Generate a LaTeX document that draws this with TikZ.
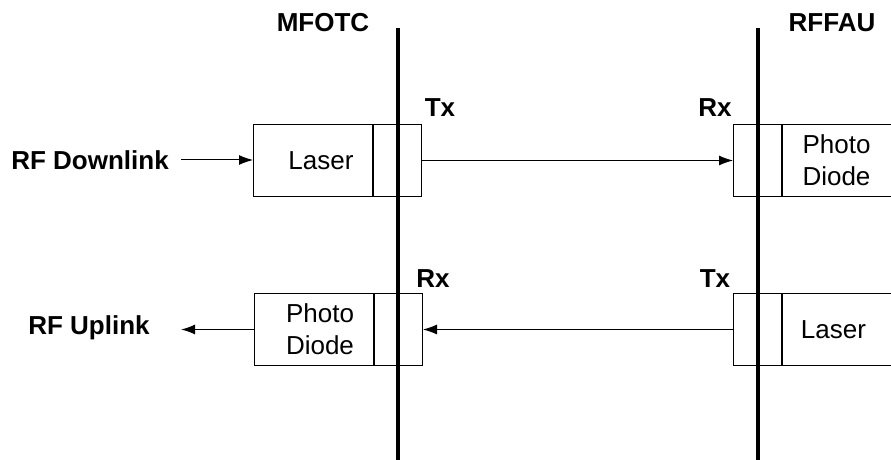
\documentclass[tikz,border=0pt]{standalone}
\usepackage{fontspec}
\setmainfont{Liberation Sans}
\usepackage{tikz}
\usetikzlibrary{arrows.meta, positioning, calc}

\begin{document}
\begin{tikzpicture}[x=0.5pt, y=-0.5pt,
    font=\fontsize{13}{16}\selectfont,
    port/.style={draw, line width=0.5pt, minimum width=24pt, minimum height=36pt, inner sep=0pt},
    unit/.style={draw, line width=0.5pt, minimum width=59.5pt, minimum height=36pt, inner sep=0pt, align=center},
    lbl/.style={font=\fontsize{13}{16}\selectfont\bfseries, inner sep=6pt},
    sig/.style={line width=0.5pt, -{Latex[length=7pt, width=5pt]}},
    boundary/.style={line width=1.7pt}]
    \useasboundingbox (0,0) rectangle (891,460);

    % boundaries
    \coordinate (mTop) at (398,28);
    \coordinate (mBot) at (398,462);
    \coordinate (rTop) at (758,28);
    \coordinate (rBot) at (758,462);
    \node[lbl] (mfotc) at (323,23) {MFOTC};
    \node[lbl] (rffau) at (832,23) {RFFAU};

    % downlink
    \node[port, anchor=north east] (txA) at (422,124) {};
    \node[unit, anchor=north east] (laserA) at (txA.north west) {\hspace*{8pt}Laser};
    \node[port, anchor=north west] (rxB) at (733,124) {};
    \node[unit, anchor=north west, minimum width=59pt] (pdB) at (rxB.north east) {\hspace*{-5pt}Photo\\\hspace*{-5pt}Diode};
    \node[lbl] (dl) at (90,160) {RF Downlink};
    \node[lbl] (txAl) at (440,108) {Tx};
    \node[lbl] (rxBl) at (715,108) {Rx};

    % uplink
    \node[port, anchor=north east] (rxA) at (423,293) {};
    \node[unit, anchor=north east] (pdA) at (rxA.north west) {\hspace*{6pt}Photo\\\hspace*{6pt}Diode};
    \node[port, anchor=north west] (txB) at (733,293) {};
    \node[unit, anchor=north west, minimum width=59pt] (laserB) at (txB.north east) {\hspace*{-8pt}Laser};
    \node[lbl] (ul) at (89,328) {RF Uplink};
    \node[lbl] (rxAl) at (433,279) {Rx};
    \node[lbl] (txBl) at (715,279) {Tx};

    \draw[sig] (dl.east) -- (dl.east -| laserA.west);
    \draw[sig] (txA.east) -- (rxB.west);
    \draw[sig] (txB.west) -- (rxA.east);
    \draw[sig] (pdA.west) -- (pdA.west -| dl.east);

    \draw[boundary] (mTop) -- (mBot);
    \draw[boundary] (rTop) -- (rBot);
\end{tikzpicture}
\end{document}
